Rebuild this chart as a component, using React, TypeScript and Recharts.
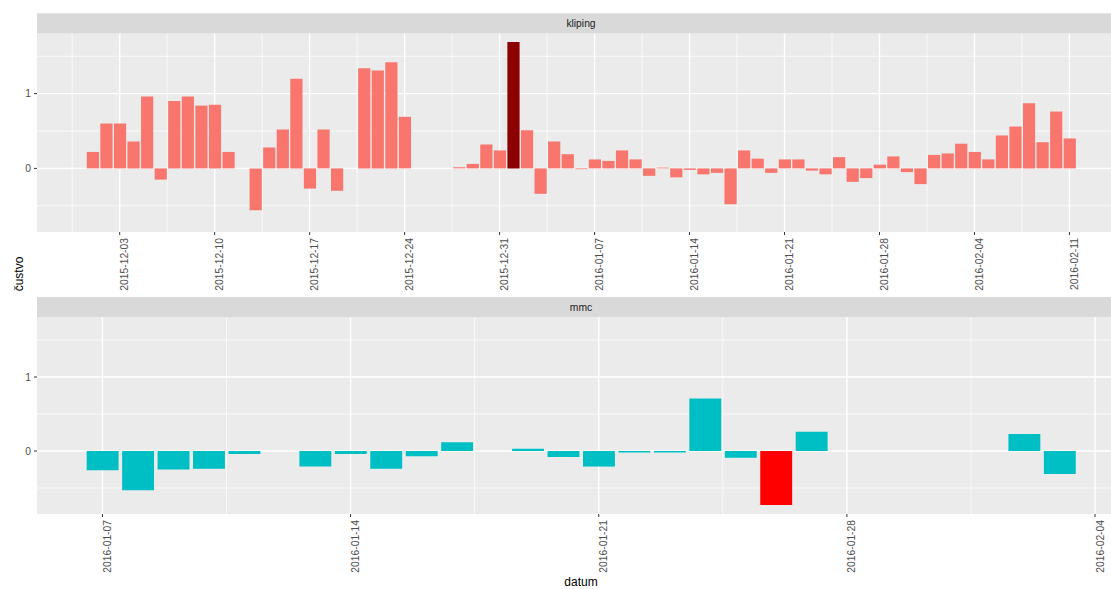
import { BarChart, Bar, XAxis, YAxis, CartesianGrid, Cell } from 'recharts';

const klipingDates = [
  '2015-12-01', '2015-12-02', '2015-12-03', '2015-12-04', '2015-12-05', '2015-12-06', '2015-12-07',
  '2015-12-08', '2015-12-09', '2015-12-10', '2015-12-11', '2015-12-13', '2015-12-14', '2015-12-15',
  '2015-12-16', '2015-12-17', '2015-12-18', '2015-12-19', '2015-12-21', '2015-12-22', '2015-12-23',
  '2015-12-24', '2015-12-28', '2015-12-29', '2015-12-30', '2015-12-31', '2016-01-01', '2016-01-02',
  '2016-01-03', '2016-01-04', '2016-01-05', '2016-01-06', '2016-01-07', '2016-01-08', '2016-01-09',
  '2016-01-10', '2016-01-11', '2016-01-12', '2016-01-13', '2016-01-14', '2016-01-15', '2016-01-16',
  '2016-01-17', '2016-01-18', '2016-01-19', '2016-01-20', '2016-01-21', '2016-01-22', '2016-01-23',
  '2016-01-24', '2016-01-25', '2016-01-26', '2016-01-27', '2016-01-28', '2016-01-29', '2016-01-30',
  '2016-01-31', '2016-02-01', '2016-02-02', '2016-02-03', '2016-02-04', '2016-02-05', '2016-02-06',
  '2016-02-07', '2016-02-08', '2016-02-09', '2016-02-10', '2016-02-11',
];
const klipingValues = [
  0.22, 0.6, 0.6, 0.36, 0.96, -0.15, 0.9,
  0.96, 0.84, 0.85, 0.22, -0.56, 0.28, 0.52,
  1.2, -0.27, 0.52, -0.3, 1.34, 1.31, 1.42,
  0.69, 0.015, 0.06, 0.32, 0.24, 1.69, 0.51,
  -0.34, 0.36, 0.19, -0.01, 0.12, 0.1, 0.24,
  0.12, -0.1, 0.01, -0.12, -0.02, -0.08, -0.06,
  -0.48, 0.24, 0.13, -0.06, 0.12, 0.12, -0.03,
  -0.08, 0.15, -0.18, -0.13, 0.05, 0.16, -0.05,
  -0.21, 0.18, 0.2, 0.33, 0.22, 0.12, 0.44,
  0.56, 0.87, 0.35, 0.76, 0.4,
];
const klipingPeak = '2016-01-01';

const mmcDates = [
  '2016-01-07', '2016-01-08', '2016-01-09', '2016-01-10', '2016-01-11', '2016-01-13', '2016-01-14',
  '2016-01-15', '2016-01-16', '2016-01-17', '2016-01-19', '2016-01-20', '2016-01-21', '2016-01-22',
  '2016-01-23', '2016-01-24', '2016-01-25', '2016-01-26', '2016-01-27', '2016-02-02', '2016-02-03',
];
const mmcValues = [
  -0.26, -0.53, -0.25, -0.24, -0.04, -0.21, -0.04,
  -0.24, -0.07, 0.12, 0.03, -0.08, -0.21, -0.02,
  -0.02, 0.71, -0.09, -0.73, 0.26, 0.23, -0.31,
];
const mmcPeak = '2016-01-26';

const klipingTicks = [
  '2015-12-03', '2015-12-10', '2015-12-17', '2015-12-24', '2015-12-31', '2016-01-07',
  '2016-01-14', '2016-01-21', '2016-01-28', '2016-02-04', '2016-02-11',
];
const mmcTicks = ['2016-01-07', '2016-01-14', '2016-01-21', '2016-01-28', '2016-02-04'];
const yTicks = [0, 1];
const yMinor = [-0.5, 0.5, 1.5];

const FONT = '"Liberation Sans", Arial, sans-serif';
const DAY = 86400000;
const PLOT_W = 1088;

const toDay = (s: string) => {
  const [y, m, d] = s.split('-').map(Number);
  return Date.UTC(y, m - 1, d) / DAY;
};
const fmtDay = (n: number) => new Date(Math.round(n) * DAY).toISOString().slice(0, 10);

const expand = (lo: number, hi: number): [number, number] => {
  const pad = (hi - lo) * 0.05;
  return [lo - pad, hi + pad];
};

const allValues = [...klipingValues, ...mmcValues];
const yDomain = expand(Math.min(...allValues), Math.max(...allValues));

function DateTick(props: any) {
  const { x, y, payload } = props;
  return (
    <text
      transform={`translate(${x + 8.5},${y}) rotate(-90)`}
      textAnchor="end"
      fontSize={10.3}
      fontFamily={FONT}
      fill="#4D4D4D"
    >
      {fmtDay(payload.value)}
    </text>
  );
}

interface PanelProps {
  dates: string[];
  values: number[];
  peak: string;
  ticks: string[];
  color: string;
  peakColor: string;
  top: number;
  height: number;
  axisHeight: number;
}

function Panel({ dates, values, peak, ticks, color, peakColor, top, height, axisHeight }: PanelProps) {
  const data = dates.map((d, i) => ({ day: toDay(d), date: d, value: values[i] }));
  const days = data.map((d) => d.day);
  const xDomain = expand(Math.min(...days) - 0.45, Math.max(...days) + 0.45);
  const tickDays = ticks.map(toDay);
  const minorX = [tickDays[0] - 3.5, ...tickDays.map((t) => t + 3.5)].filter(
    (v) => v > xDomain[0] && v < xDomain[1]
  );
  const barSize = (0.9 * PLOT_W) / (xDomain[1] - xDomain[0]);

  return (
    <div style={{ position: 'absolute', left: 0, top }}>
      <BarChart width={37 + PLOT_W} height={height} data={data} margin={{ top: 33, right: 0, bottom: 0, left: 0 }}>
        <CartesianGrid
          fill="#EBEBEB"
          stroke="#FFFFFF"
          strokeWidth={0.7}
          horizontalValues={yMinor}
          verticalValues={minorX}
        />
        <CartesianGrid
          fill="none"
          stroke="#FFFFFF"
          strokeWidth={1.4}
          horizontalValues={yTicks}
          verticalValues={tickDays}
        />
        <XAxis
          dataKey="day"
          type="number"
          domain={xDomain}
          allowDataOverflow
          ticks={tickDays}
          interval={0}
          height={axisHeight}
          axisLine={false}
          tickLine={{ stroke: '#333333' }}
          tickSize={3}
          tickMargin={3}
          tick={<DateTick />}
        />
        <YAxis
          type="number"
          domain={yDomain}
          allowDataOverflow
          ticks={yTicks}
          interval={0}
          width={37}
          axisLine={false}
          tickLine={{ stroke: '#333333' }}
          tickSize={3}
          tickMargin={3}
          tick={{ fontSize: 10.3, fill: '#4D4D4D', fontFamily: FONT }}
        />
        <Bar dataKey="value" barSize={barSize} isAnimationActive={false}>
          {data.map((d) => (
            <Cell key={d.date} fill={d.date === peak ? peakColor : color} />
          ))}
        </Bar>
      </BarChart>
    </div>
  );
}

export default function App() {
  return (
    <div
      style={{
        position: 'absolute',
        left: 0,
        top: 0,
        width: 1111,
        height: 589,
        overflow: 'hidden',
        background: '#FFFFFF',
      }}
    >
      <Panel
        dates={klipingDates}
        values={klipingValues}
        peak={klipingPeak}
        ticks={klipingTicks}
        color="#F8766D"
        peakColor="#8B0000"
        top={0}
        height={291}
        axisHeight={59}
      />
      <Panel
        dates={mmcDates}
        values={mmcValues}
        peak={mmcPeak}
        ticks={mmcTicks}
        color="#00BFC4"
        peakColor="#FF0000"
        top={284}
        height={305}
        axisHeight={75}
      />
      <svg
        width={1125}
        height={589}
        style={{ position: 'absolute', left: 0, top: 0, pointerEvents: 'none' }}
        fontFamily={FONT}
      >
        <rect x={37} y={13.3} width={PLOT_W} height={20} fill="#D9D9D9" />
        <text x={37 + PLOT_W / 2} y={27.3} textAnchor="middle" fontSize={10.3} fill="#1A1A1A">
          kliping
        </text>
        <rect x={37} y={297} width={PLOT_W} height={20} fill="#D9D9D9" />
        <text x={37 + PLOT_W / 2} y={310.8} textAnchor="middle" fontSize={10.3} fill="#1A1A1A">
          mmc
        </text>
        <text transform="translate(22.5,274) rotate(-90)" textAnchor="middle" fontSize={12} fill="#000000">
          čustvo
        </text>
        <text x={37 + PLOT_W / 2} y={586} textAnchor="middle" fontSize={12} fill="#000000">
          datum
        </text>
      </svg>
    </div>
  );
}
